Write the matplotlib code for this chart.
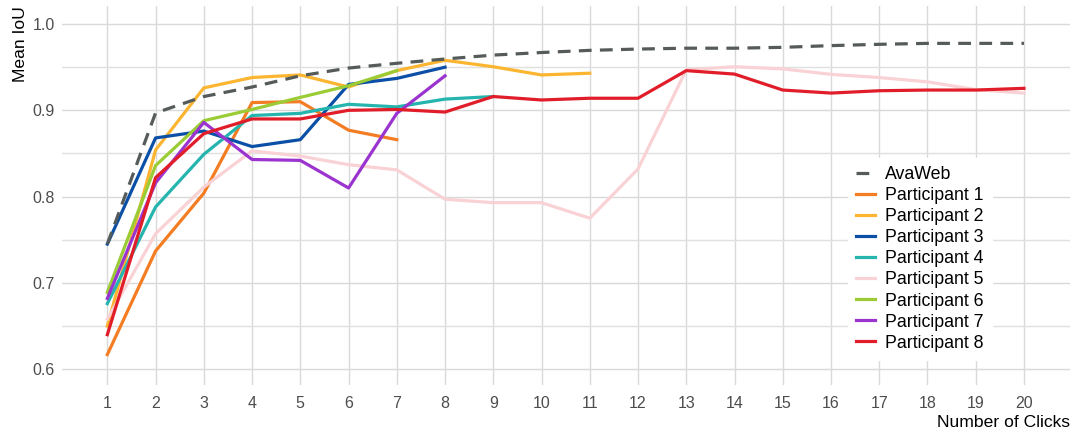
import matplotlib.pyplot as plt
from matplotlib.ticker import MultipleLocator

plt.rcParams['font.family'] = ['Liberation Sans', 'DejaVu Sans']

# data
clicks = list(range(1, 21))
avaweb = [0.745, 0.897, 0.916, 0.927, 0.940, 0.949, 0.9545, 0.9595, 0.964, 0.967,
          0.9695, 0.971, 0.972, 0.972, 0.973, 0.975, 0.9765, 0.9776, 0.9776, 0.9776]
p1 = [0.617, 0.737, 0.804, 0.909, 0.910, 0.877, 0.866]
p2 = [0.650, 0.854, 0.926, 0.938, 0.941, 0.927, 0.946, 0.958, 0.9505, 0.941, 0.943]
p3 = [0.745, 0.868, 0.876, 0.858, 0.866, 0.930, 0.937, 0.950]
p4 = [0.676, 0.788, 0.849, 0.894, 0.8965, 0.907, 0.904, 0.913, 0.916]
p5 = [0.658, 0.757, 0.811, 0.853, 0.847, 0.837, 0.831, 0.797, 0.793, 0.793,
      0.775, 0.832, 0.947, 0.9505, 0.948, 0.9417, 0.938, 0.933, 0.924, 0.920]
p6 = [0.689, 0.836, 0.888, 0.901, 0.915, 0.9285, 0.946]
p7 = [0.682, 0.816, 0.886, 0.843, 0.842, 0.810, 0.8965, 0.940]
p8 = [0.640, 0.822, 0.873, 0.890, 0.890, 0.900, 0.901, 0.898, 0.916, 0.912,
      0.914, 0.914, 0.946, 0.942, 0.9235, 0.920, 0.9227, 0.9235, 0.9235, 0.9255]

participants = [p1, p2, p3, p4, p5, p6, p7, p8]
names = [f'Participant {i}' for i in range(1, 9)]
colors = ['#F47C22', '#FBB531', '#0B50A6', '#25B4AE', '#F9D2D5', '#9BCC35', '#9B33CF', '#E21D2A']

fig = plt.figure(figsize=(10.7, 4.34), dpi=100)
ax = fig.add_axes([61.5 / 1070, 1 - 385 / 434, (1069.8 - 61.5) / 1070, (385 - 6) / 434])

handles = []
for vals, name, c in zip(participants, names, colors):
    h, = ax.plot(clicks[:len(vals)], vals, color=c, lw=2.3, label=name)
    handles.append(h)
ha, = ax.plot(clicks, avaweb, color='#555B59', lw=2.3, ls=(0, (4, 2.6)), label='AvaWeb')

ax.set_xlim(0.05, 20.95)
ax.set_ylim(0.5817, 1.0209)
ax.set_xticks(clicks)
ax.yaxis.set_major_locator(MultipleLocator(0.1))
ax.yaxis.set_minor_locator(MultipleLocator(0.05))
ax.yaxis.set_major_formatter(lambda v, p: f'{v:.1f}')

ax.grid(True, which='major', color='#D9D9D9', lw=1.0)
ax.grid(True, which='minor', axis='y', color='#E0E0E0', lw=1.0)
ax.set_axisbelow(True)
for s in ax.spines.values():
    s.set_visible(False)
ax.tick_params(axis='both', which='both', length=0, labelsize=11.5, colors='#4D4D4D')
ax.tick_params(axis='x', pad=8)
ax.tick_params(axis='y', pad=5)

ax.set_xlabel('Number of Clicks', fontsize=12.6, loc='right', labelpad=3)
ax.set_ylabel('Mean IoU', fontsize=12.6, loc='top', labelpad=3)

leg = ax.legend([ha] + handles, ['AvaWeb'] + names, loc='upper left',
                bbox_to_anchor=(848 / 1070, 1 - 158 / 434), bbox_transform=fig.transFigure,
                fontsize=12.8, frameon=True, fancybox=False, borderaxespad=0,
                handlelength=1.05, handletextpad=0.6, labelspacing=0.23, borderpad=0.45)
leg.get_frame().set_facecolor('white')
leg.get_frame().set_edgecolor('white')
leg.get_frame().set_alpha(1)

fig.savefig('out.png', dpi=100)
